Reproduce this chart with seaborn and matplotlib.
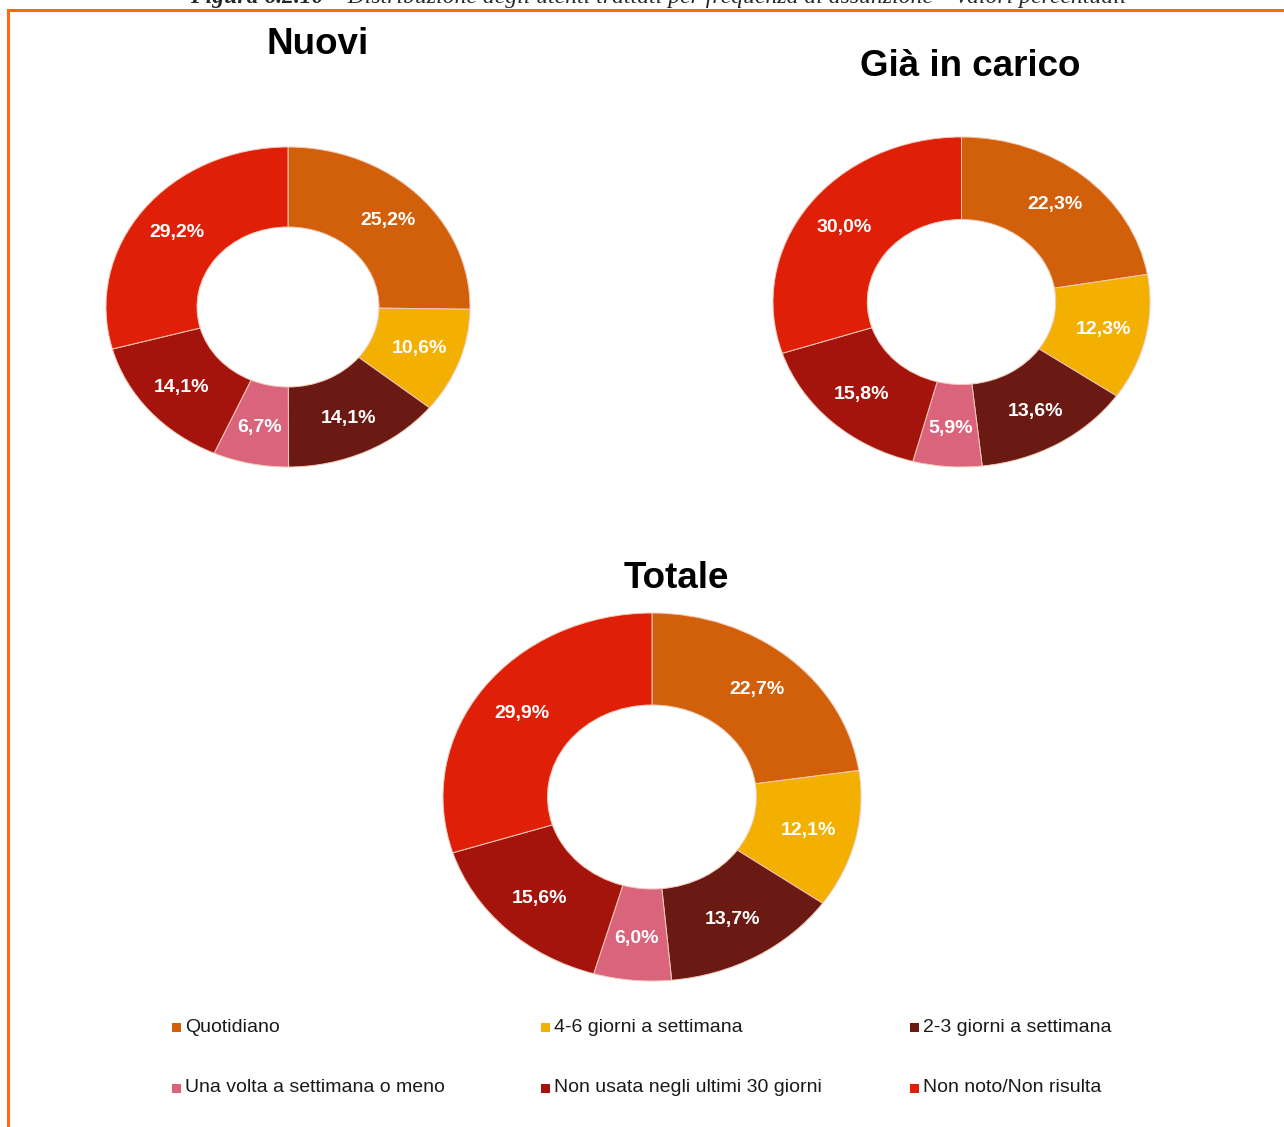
import numpy as np
import pandas as pd
import matplotlib
matplotlib.use("Agg")
import matplotlib.pyplot as plt
import seaborn as sns
from matplotlib.patches import Rectangle

# ======================================
# Data
# ======================================

categories = [
    "Quotidiano",
    "4-6 giorni a settimana",
    "2-3 giorni a settimana",
    "Una volta a settimana o meno",
    "Non usata negli ultimi 30 giorni",
    "Non noto/Non risulta",
]

nuovi = [25.2, 10.6, 14.1, 6.7, 14.1, 29.2]
gia_in_carico = [22.3, 12.3, 13.6, 5.9, 15.8, 30.0]
totale = [22.7, 12.1, 13.7, 6.0, 15.6, 29.9]

colors = ["#D2600A", "#F4B000", "#6A1A12", "#D9647C", "#A5140C", "#DF1F08"]

# ======================================
# Figure
# ======================================

sns.set_theme(style="white")
plt.rcParams["font.family"] = ["Liberation Sans", "DejaVu Sans"]

W, H = 1284, 1127
fig = plt.figure(figsize=(W / 100, H / 100), dpi=100)
fig.patch.set_facecolor("white")

palette = sns.color_palette(colors)

# orange frame around the figure body
fig.patches.append(Rectangle(
    (8 / W, -0.05), 1.2, 1 - 10 / H + 0.05,
    transform=fig.transFigure, fill=False,
    edgecolor="#FF6A10", linewidth=2.2
))

# caption (cut at the top as in the page scan)
cap_x = 330 / W
cap_y = 1 - 3 / H
fig.text(
    cap_x, cap_y, "Figura 6.2.10 ",
    ha="right", va="baseline", fontsize=17, style="italic",
    fontweight="bold", family="Liberation Serif"
)
fig.text(
    cap_x, cap_y,
    "\u2013 Distribuzione degli utenti trattati per frequenza di assunzione \u2013 valori percentuali",
    ha="left", va="baseline", fontsize=17, style="italic",
    family="Liberation Serif"
)


def px_axes(x0, y0, x1, y1):
    return fig.add_axes([x0 / W, 1 - y1 / H, (x1 - x0) / W, (y1 - y0) / H])


def donut(ax, values, title, title_xy):
    wedges, _ = ax.pie(
        values,
        colors=palette,
        startangle=90,
        counterclock=False,
        radius=1,
        wedgeprops=dict(width=0.5, edgecolor="#F3C9B8", linewidth=0.7),
    )
    ax.set_aspect("auto")
    ax.set_xlim(-1, 1)
    ax.set_ylim(-1, 1)
    ax.axis("off")

    for w, v in zip(wedges, values):
        ang = np.deg2rad((w.theta1 + w.theta2) / 2)
        ax.text(
            0.77 * np.cos(ang), 0.77 * np.sin(ang),
            f"{v:.1f}%".replace(".", ","),
            ha="center", va="center", color="white",
            fontsize=14, fontweight="bold"
        )

    fig.text(
        title_xy[0] / W, 1 - title_xy[1] / H, title,
        ha="center", va="center", fontsize=26.5, fontweight="bold",
        color="black"
    )


donut(px_axes(106, 147, 470, 467), nuovi, "Nuovi", (318, 45))
donut(px_axes(773, 137, 1150, 467), gia_in_carico, "Già in carico", (970, 66))
donut(px_axes(443, 613, 861, 981), totale, "Totale", (676, 578))

# ======================================
# Legend
# ======================================

col_x = [172, 541, 910]
row_y = [1027, 1088]

for i, (cat, col) in enumerate(zip(categories, colors)):
    x = col_x[i % 3]
    y = row_y[i // 3]
    fig.patches.append(Rectangle(
        (x / W, 1 - (y + 4.5) / H), 9 / W, 9 / H,
        transform=fig.transFigure, facecolor=col, edgecolor="none"
    ))
    fig.text(
        (x + 13) / W, 1 - y / H, cat,
        ha="left", va="center", fontsize=14, color="#1a1a1a"
    )

plt.savefig("out.png", dpi=100)
plt.close()
